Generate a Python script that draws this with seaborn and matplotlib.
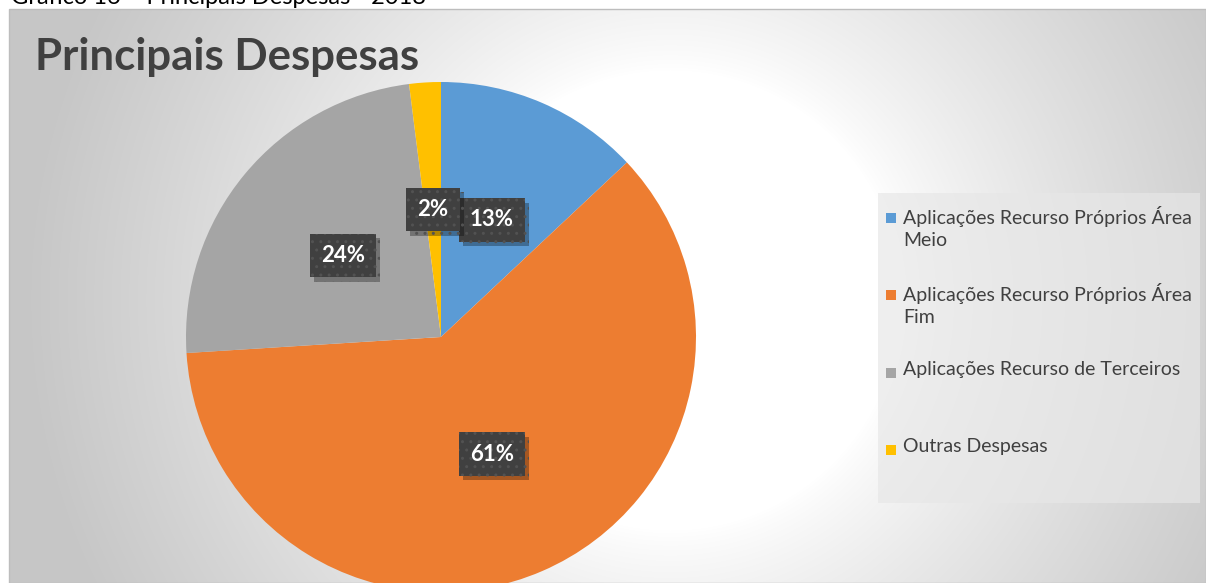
import numpy as np
import seaborn as sns
import matplotlib.pyplot as plt
import matplotlib.patheffects as pe
from matplotlib.patches import Rectangle

# Pie data (percent of total expenses, 2018)
categories = [
    'Aplicações Recurso Próprios Área\nMeio',
    'Aplicações Recurso Próprios Área\nFim',
    'Aplicações Recurso de Terceiros',
    'Outras Despesas',
]
values = [13, 61, 24, 2]
colors = ['#5B9BD5', '#ED7D31', '#A5A5A5', '#FFC000']

W, H = 1206, 583

sns.set_theme(style='white')
plt.rcParams['font.family'] = ['Lato', 'DejaVu Sans']
palette = sns.color_palette(colors)

fig = plt.figure(figsize=(W / 100, H / 100), dpi=100)
fig.patch.set_facecolor('white')
ax = fig.add_axes([0, 0, 1, 1])

# radial background gradient of the chart area (image coords, y down)
xs = np.arange(9, W)
ys = np.arange(9, H)
gx, gy = np.meshgrid(xs, ys)
d = np.hypot(gx - 670, gy - 300)
t = np.clip((d - 230) / 410, 0, 1) ** 0.8
g = 1 - 0.22 * t
ax.imshow(np.dstack([g, g, g]), extent=(9, W, 0, H - 9), origin='upper',
          aspect='auto', zorder=0, interpolation='bilinear')
ax.add_patch(Rectangle((9, 0), W - 9, H - 9, fill=False, ec='#bdbdbd', lw=1, zorder=1))

# pie
wedges, texts, autotexts = ax.pie(
    values, colors=palette, startangle=90, counterclock=False,
    radius=255, center=(441, H - 337), autopct='%1.0f%%', pctdistance=0.5,
    wedgeprops=dict(linewidth=0), textprops=dict(color='white', fontsize=16,
                                                 fontweight='bold'))
for w in wedges:
    w.set_zorder(2)
for at in autotexts:
    at.set_zorder(5)
    at.set_bbox(dict(boxstyle='square,pad=0.5', fc='#404040', ec='#525252',
                     lw=0, hatch='..'))
    at.get_bbox_patch().set_path_effects([
        pe.SimplePatchShadow(offset=(3, -3), shadow_rgbFace='#000000', alpha=0.3),
        pe.Normal()])

ax.set_xlim(0, W)
ax.set_ylim(0, H)
ax.set_aspect('auto')
ax.axis('off')

# title and header
ax.text(35, H - 70, 'Principais Despesas', fontsize=31.5, fontweight='bold',
        color='#404040', va='baseline', ha='left', zorder=6)
ax.text(11, H - 3.5, 'Gráfico 16 – Principais Despesas - 2018', fontsize=17,
        color='#000000', va='baseline', ha='left', zorder=6)

# legend panel
ax.add_patch(Rectangle((878, H - 503), 322, 310, fc='#e7e7e7', ec='none',
                       alpha=0.68, zorder=3))
for i, (lab, col) in enumerate(zip(categories, palette)):
    yc = H - (218 + 77.3 * i)
    ax.add_patch(Rectangle((886, yc - 5), 10, 10, fc=col, ec='none', zorder=4))
    ax.text(903, yc + 12, lab, fontsize=14, color='#404040', va='top',
            ha='left', linespacing=1.35, zorder=4)

fig.savefig('out.png', dpi=100)
